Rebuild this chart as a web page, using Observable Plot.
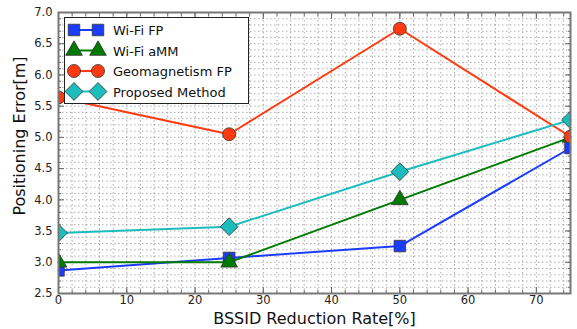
<!DOCTYPE html>
<html><head><meta charset="utf-8">
<script src="https://cdn.jsdelivr.net/npm/d3@7"></script>
<script src="https://cdn.jsdelivr.net/npm/@observablehq/plot@0.6"></script>
<style>
body{margin:0;background:#fff;font-family:"DejaVu Sans",sans-serif;}
#wrap{position:relative;width:577px;height:329px;}
#legend{position:absolute;left:64px;top:17px;width:185px;height:87px;border:1.5px solid #222;background:#fff;box-sizing:border-box;}
</style></head>
<body><div id="wrap"><div id="chart"></div><div id="legend"></div></div>
<script>
const rates = [0, 25, 50, 75];
const seriesNames = ["Wi-Fi FP", "Wi-Fi aMM", "Geomagnetism FP", "Proposed Method"];
const wifiFP = [2.87, 3.07, 3.26, 4.83];
const wifiAMM = [3.0, 3.0, 4.0, 5.0];
const geoFP = [5.64, 5.05, 6.74, 5.01];
const proposed = [3.47, 3.57, 4.45, 5.28];
const xTicks = [0, 10, 20, 30, 40, 50, 60, 70];
const yTicks = [2.5, 3.0, 3.5, 4.0, 4.5, 5.0, 5.5, 6.0, 6.5, 7.0];

const colors = ["#1a3cff", "#007a00", "#ff3a10", "#1cbcbc"];
const symbols = ["square", "triangle", "circle", "diamond2"];
const radii = [6.5, 6.2, 6.5, 8];
const allVals = [wifiFP, wifiAMM, geoFP, proposed];
const data = [];
seriesNames.forEach((s, i) => rates.forEach((r, j) => data.push({series: s, rate: r, value: allVals[i][j]})));

const xMinor = d3.range(0, 76, 2);
const yMinor = d3.range(25, 71, 1).map(d => d / 10);

const marks = [
  Plot.gridX(xMinor, {stroke: "#999", strokeOpacity: 0.8, strokeDasharray: "1.5,2.5"}),
  Plot.gridY(yMinor, {stroke: "#999", strokeOpacity: 0.8, strokeDasharray: "1.5,2.5"}),
  Plot.axisX(xTicks, {tickSize: 0, tickPadding: 2, fontSize: 11.5, fill: "#222", tickFormat: d => d}),
  Plot.axisX(xMinor, {tickSize: -3, text: null, stroke: "#666"}),
  Plot.axisX(xTicks, {tickSize: -6, text: null, stroke: "#666"}),
  Plot.axisX(xMinor, {anchor: "top", tickSize: -3, text: null, stroke: "#666"}),
  Plot.axisX(xTicks, {anchor: "top", tickSize: -6, text: null, stroke: "#666"}),
  Plot.axisY(yTicks, {tickSize: 0, tickPadding: 6, fontSize: 11.5, fill: "#222", tickFormat: d3.format(".1f")}),
  Plot.axisY(yMinor, {tickSize: -3, text: null, stroke: "#666"}),
  Plot.axisY(yTicks, {tickSize: -6, text: null, stroke: "#666"}),
  Plot.axisY(yMinor, {anchor: "right", tickSize: -3, text: null, stroke: "#666"}),
  Plot.axisY(yTicks, {anchor: "right", tickSize: -6, text: null, stroke: "#666"})
];
seriesNames.forEach((s, i) => {
  const d = data.filter(e => e.series === s);
  marks.push(Plot.line(d, {x: "rate", y: "value", stroke: colors[i], strokeWidth: 2}));
  marks.push(Plot.dot(d, {x: "rate", y: "value", fill: colors[i], stroke: "#333", strokeWidth: 0.8, symbol: () => symbols[i], r: radii[i], clip: "frame"}));
});
marks.push(Plot.frame({stroke: "#777", strokeWidth: 2}));

const chart = Plot.plot({
  width: 577, height: 329,
  marginLeft: 58, marginRight: 7, marginTop: 12, marginBottom: 36,
  style: {fontFamily: "DejaVu Sans, sans-serif", background: "#fff"},
  x: {domain: [0, 75], label: null},
  y: {domain: [2.5, 7.0], label: null},
  symbol: {type: "identity"},
  marks: marks.concat([
    Plot.text(["BSSID Reduction Rate[%]"], {frameAnchor: "bottom", dy: 30, fontSize: 16, fill: "#111"}),
    Plot.text(["Positioning Error[m]"], {frameAnchor: "left", textAnchor: "middle", dx: -39, dy: -17, rotate: -90, fontSize: 16, fill: "#111"})
  ])
});
document.getElementById("chart").appendChild(chart);

// legend
const lg = d3.select("#legend").append("svg").attr("width", 182).attr("height", 84);
seriesNames.forEach((s, i) => {
  const g = lg.append("g").attr("transform", `translate(0,${12 + i * 20.5})`);
  g.append("line").attr("x1", 9).attr("x2", 33).attr("y1", 0).attr("y2", 0).attr("stroke", colors[i]).attr("stroke-width", 2);
  const sym = {square: d3.symbolSquare, triangle: d3.symbolTriangle, circle: d3.symbolCircle, diamond2: d3.symbolDiamond2}[symbols[i]];
  const size = Math.PI * radii[i] * radii[i];
  [9, 33].forEach(x => g.append("path").attr("d", d3.symbol(sym, size)()).attr("transform", `translate(${x},0)`)
    .attr("fill", colors[i]).attr("stroke", "#333").attr("stroke-width", 0.8));
  g.append("text").attr("x", 48).attr("y", 5).attr("font-size", 13).attr("fill", "#111").text(s);
});
</script></body></html>
